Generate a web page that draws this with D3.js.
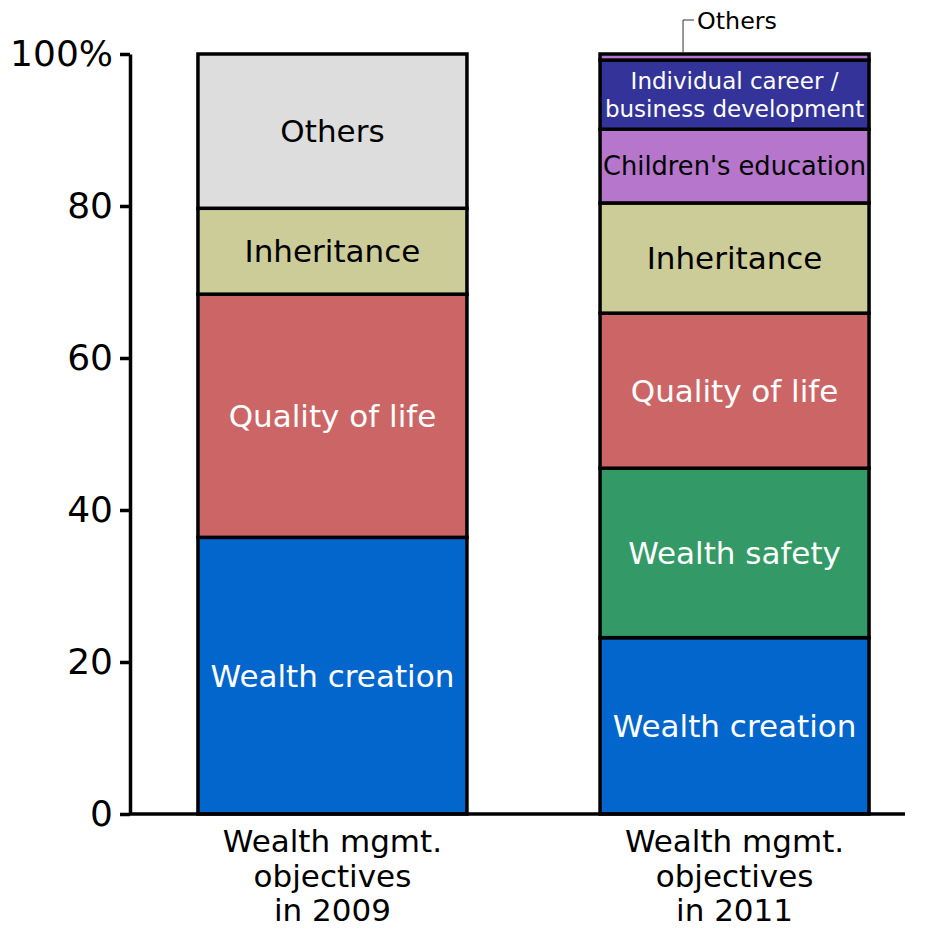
<!DOCTYPE html>
<html>
<head>
<meta charset="utf-8">
<script src="https://cdn.jsdelivr.net/npm/d3@7"></script>
<style>
  body { margin: 0; background: #fff; }
  text { font-family: "DejaVu Sans", Verdana, sans-serif; }
</style>
</head>
<body>
<div id="chart"></div>
<script>
// data
const years = ["2009", "2011"];
const categoryLines = [
    ["Wealth mgmt.", "objectives", "in 2009"],
    ["Wealth mgmt.", "objectives", "in 2011"]
];
const objectives2009 = ["Wealth creation", "Quality of life", "Inheritance", "Others"];
const values2009 = [36.4, 32.0, 11.3, 20.3];
const objectives2011 = ["Wealth creation", "Wealth safety", "Quality of life", "Inheritance",
    "Children's education", "Individual career / business development", "Others"];
const values2011 = [23.2, 22.3, 20.4, 14.5, 9.7, 9.1, 0.8];
const yTicks = [0, 20, 40, 60, 80, 100];

const colors = {
    "Wealth creation": "#0366cc",
    "Wealth safety": "#339966",
    "Quality of life": "#cc6666",
    "Inheritance": "#cccc99",
    "Children's education": "#b576cc",
    "Individual career / business development": "#333399",
    "Others": "#dddddd"
};
const darkFills = ["Wealth creation", "Wealth safety", "Quality of life", "Individual career / business development"];

const width = 925, height = 930;
const svg = d3.select("#chart").append("svg")
    .attr("width", width).attr("height", height);

const y = d3.scaleLinear().domain([0, 100]).range([814, 54]);
const x = d3.scaleBand().domain(years).range([130, 937])
    .paddingInner(0.331).paddingOuter(0.169);

// stack each year's segments
function stackUp(names, vals) {
    let acc = 0;
    return names.map((n, i) => {
        const s = { name: n, y0: acc, y1: acc + vals[i] };
        acc += vals[i];
        return s;
    });
}
const bars = [
    { year: "2009", segs: stackUp(objectives2009, values2009) },
    { year: "2011", segs: stackUp(objectives2011, values2011) }
];

const strokeW = 3.5;

bars.forEach(bar => {
    const g = svg.append("g");
    g.selectAll("rect").data(bar.segs).enter().append("rect")
        .attr("x", x(bar.year))
        .attr("width", x.bandwidth())
        .attr("y", d => y(d.y1))
        .attr("height", d => y(d.y0) - y(d.y1))
        .attr("fill", d => (y(d.y0) - y(d.y1)) < 20 ? "#b576cc" : colors[d.name])
        .attr("stroke", "#000")
        .attr("stroke-width", strokeW);

    const cx = x(bar.year) + x.bandwidth() / 2;
    bar.segs.forEach(d => {
        const h = y(d.y0) - y(d.y1);
        const cy = (y(d.y0) + y(d.y1)) / 2;
        const fill = darkFills.includes(d.name) ? "#fff" : "#000";
        if (h < 20) {
            // leader line for tiny slice
            const lx = x(bar.year) + 83;
            g.append("path")
                .attr("d", `M${lx},${y(d.y1) - 2}V20H${lx + 11}`)
                .attr("fill", "none").attr("stroke", "#333").attr("stroke-width", 1);
            g.append("text")
                .attr("x", lx + 14).attr("y", 21)
                .attr("dy", "0.35em")
                .attr("font-size", 23.8)
                .text(d.name);
            return;
        }
        if (d.name.includes(" / ")) {
            const parts = d.name.split(" / ");
            const lines = [parts[0] + " /", parts[1]];
            const t = g.append("text")
                .attr("text-anchor", "middle")
                .attr("font-size", 23)
                .attr("fill", fill);
            lines.forEach((ln, i) => {
                t.append("tspan").attr("x", cx)
                    .attr("y", cy + (i - 0.5) * 28)
                    .attr("dy", "0.35em")
                    .text(ln);
            });
            return;
        }
        g.append("text")
            .attr("x", cx).attr("y", cy)
            .attr("dy", "0.35em")
            .attr("text-anchor", "middle")
            .attr("font-size", d.name === "Children's education" ? 25.7 : 31)
            .attr("fill", fill)
            .text(d.name);
    });
});

// y axis
const yAxis = d3.axisLeft(y).tickValues(yTicks)
    .tickSize(10).tickSizeOuter(0).tickPadding(7)
    .tickFormat(d => d === 100 ? "100%" : d);
const ya = svg.append("g").attr("transform", "translate(130,0)").call(yAxis);
ya.select(".domain").attr("stroke", "#000").attr("stroke-width", strokeW);
ya.selectAll(".tick line").attr("stroke", "#000").attr("stroke-width", strokeW);
ya.selectAll(".tick text")
    .attr("font-family", "DejaVu Sans, Verdana, sans-serif")
    .attr("font-size", 36).attr("fill", "#000");

// baseline
svg.append("line")
    .attr("x1", 130).attr("x2", 905)
    .attr("y1", y(0)).attr("y2", y(0))
    .attr("stroke", "#000").attr("stroke-width", strokeW);

// category labels
years.forEach((yr, i) => {
    const t = svg.append("text")
        .attr("text-anchor", "middle")
        .attr("font-size", 31);
    categoryLines[i].forEach((ln, j) => {
        t.append("tspan")
            .attr("x", x(yr) + x.bandwidth() / 2)
            .attr("y", 852 + j * 34.5)
            .text(ln);
    });
});
</script>
</body>
</html>
